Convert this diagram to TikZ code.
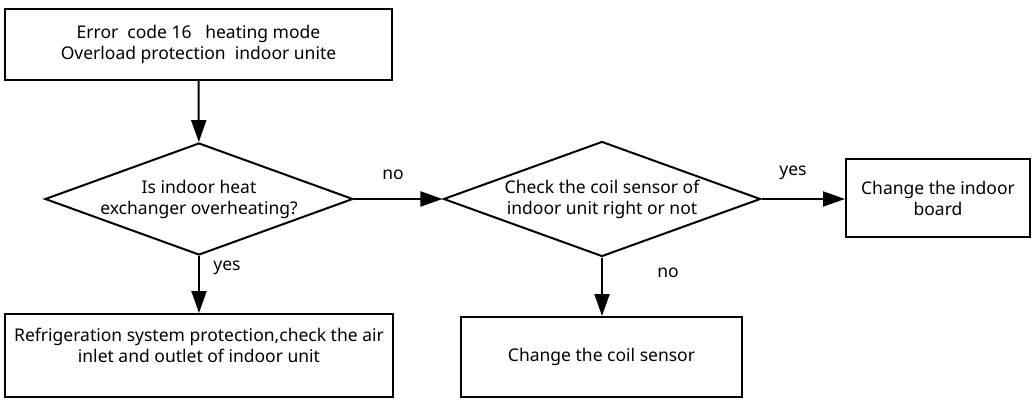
\documentclass[tikz,border=0pt]{standalone}
\usepackage{fontspec}
\setmainfont{Noto Sans}
\usetikzlibrary{shapes.geometric, arrows.meta}

\begin{document}
\begin{tikzpicture}[x=1pt, y=-1pt,
    box/.style={rectangle, draw, line width=2pt, inner sep=0pt,
                align=center, font=\fontsize{17.5}{21}\selectfont},
    ask/.style={diamond, draw, line width=2pt, inner sep=0pt, aspect=2.75,
                align=center, font=\fontsize{17.5}{21}\selectfont},
    flow/.style={line width=2pt, -{Triangle[length=22pt, width=15pt]}},
    lbl/.style={font=\fontsize{17.5}{21}\selectfont}
  ]
  \useasboundingbox (0,0) rectangle (1036,399);

  \node[box, minimum width=387pt, minimum height=71pt] (err) at (198.5,44.5)
        {Error~ code 16~~ heating mode\\Overload protection~ indoor unite};
  \node[ask, minimum width=308pt, minimum height=112pt] (hot) at (199,199)
        {Is indoor heat\\exchanger overheating?};
  \node[ask, minimum width=317pt, minimum height=115pt] (coil) at (602,199)
        {Check the coil sensor of\\indoor unit right or not};
  \node[box, minimum width=184pt, minimum height=78pt] (board) at (938,198)
        {Change the indoor\\board};
  \node[box, minimum width=388pt, minimum height=83pt] (refrig) at (199,355.5)
        {Refrigeration system protection,check the air\\inlet and outlet of indoor unit\\[0pt]\mbox{}};
  \node[box, minimum width=281pt, minimum height=80pt] (sensor) at (601.5,357)
        {Change the coil sensor};

  % connectors
  \draw[flow] (err) -- (hot);
  \draw[flow] (hot) -- (coil);
  \draw[flow] (coil.east) -- (board.west |- coil.east);
  \draw[flow] (hot) -- (refrig);
  \draw[flow] (coil) -- (coil |- sensor.north);

  \node[lbl] (hotno)   at (393,175) {no};
  \node[lbl] (coilyes) at (793,173) {yes};
  \node[lbl] (hotyes)  at (227,268) {yes};
  \node[lbl] (coilno)  at (668,273) {no};
\end{tikzpicture}
\end{document}
